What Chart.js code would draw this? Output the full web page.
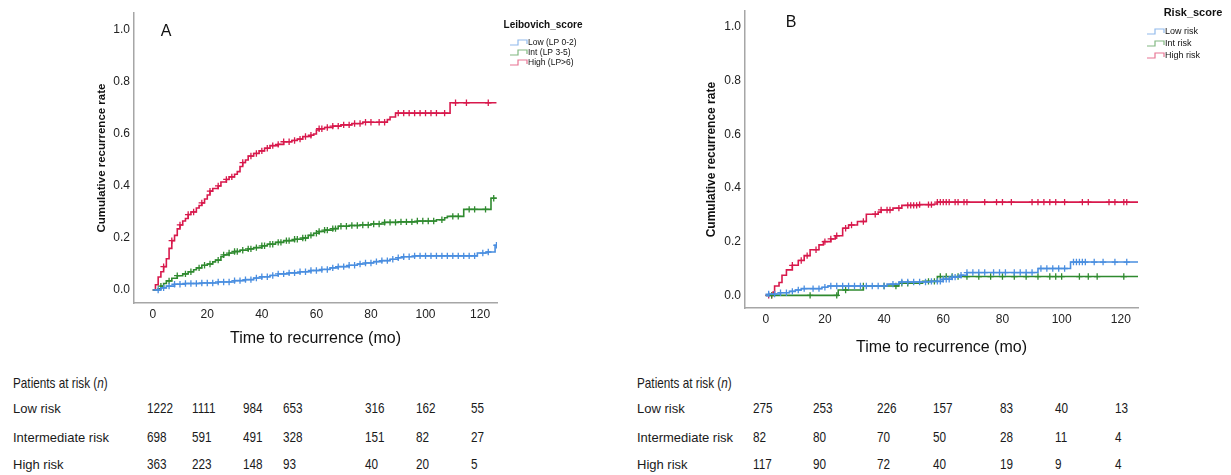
<!DOCTYPE html>
<html>
<head>
<meta charset="utf-8">
<script src="https://cdn.jsdelivr.net/npm/chart.js@4.4.1/dist/chart.umd.min.js"></script>
<style>
  body { margin: 0; background: #fff; width: 1231px; height: 475px; overflow: hidden; position: relative; }
  canvas { position: absolute; top: 0; }
  #chartA { left: 0; }
  #chartB { left: 620px; }
  .t { position: absolute; white-space: nowrap; color: #1a1a1a; line-height: 1; transform-origin: left center; }
  .lab { font: 13px "Liberation Sans", Arial, sans-serif; transform: translateY(-50%); }
  .num, .head { font: 14.5px "Liberation Sans", Arial, sans-serif; transform: translateY(-50%) scaleX(0.81); }
</style>
</head>
<body>
<canvas id="chartA" width="620" height="360"></canvas>
<canvas id="chartB" width="611" height="360"></canvas>
<div id="tables"></div>
<script>
// ---- data ----
const xTicks = [0, 20, 40, 60, 80, 100, 120]
const yTicks = [0, 0.2, 0.4, 0.6, 0.8, 1.0]

// panel A (Leibovich score): step points [month, cumulative rate]
const aLowSteps = [[0,0],[3,0.008],[5,0.015],[8,0.022],[12,0.025],[18,0.027],[24,0.031],[30,0.036],[34,0.04],[37,0.046],[40,0.051],[43,0.056],[46,0.062],[50,0.066],[54,0.07],[58,0.075],[62,0.079],[65,0.085],[68,0.09],[72,0.095],[75,0.1],[78,0.104],[81,0.109],[84,0.113],[87,0.118],[90,0.124],[92,0.128],[96,0.131],[119,0.142],[122.5,0.146],[125.5,0.172],[126,0.172]]
const aIntSteps = [[0,0],[2,0.005],[3,0.015],[4,0.025],[5,0.035],[7,0.045],[9,0.055],[11,0.062],[13,0.07],[15,0.078],[16,0.085],[18,0.095],[20,0.1],[22,0.108],[23,0.115],[25,0.128],[26,0.135],[28,0.142],[30,0.148],[32,0.153],[35,0.158],[37,0.163],[40,0.17],[42,0.176],[45,0.183],[48,0.19],[52,0.195],[55,0.2],[57,0.21],[59,0.218],[61,0.225],[63,0.23],[66,0.236],[68,0.245],[72,0.248],[76,0.25],[80,0.254],[85,0.26],[90,0.262],[97,0.265],[104,0.27],[107,0.278],[108,0.283],[114,0.31],[124,0.353],[126,0.353]]
const aHighSteps = [[0,0],[1,0.02],[2,0.05],[3,0.07],[4,0.09],[5,0.12],[6,0.16],[7,0.19],[8,0.21],[9,0.235],[10,0.25],[11,0.265],[12,0.275],[13,0.29],[14,0.3],[16,0.315],[17,0.325],[18,0.335],[19,0.35],[20,0.365],[21,0.38],[22,0.39],[24,0.4],[25,0.415],[27,0.425],[28,0.435],[30,0.445],[31,0.455],[32,0.475],[33,0.49],[34,0.5],[35,0.515],[37,0.525],[39,0.535],[41,0.545],[43,0.555],[46,0.56],[48,0.57],[51,0.575],[53,0.58],[55,0.59],[58,0.595],[59,0.6],[60,0.615],[61,0.62],[63,0.625],[66,0.63],[69,0.635],[73,0.64],[77,0.645],[86,0.655],[87,0.665],[89,0.68],[109,0.72],[126,0.72]]
// censored times (months)
const aLowCens = [2,4,6,8,10,12,14,16,18,20,22,24,26,28,30,32,34,36,38,40,42,44,46,48,50,52,54,56,58,60,62,64,66,68,70,72,74,76,78,80,82,84,86,88,90,92,94,96,98,100,102,104,106,108,110,112,114,116,118,121,123,126]
const aIntCens = [3,6,9,12,14,17,19,21,24,26,28,30,31,33,35,36,38,40,41,43,44,46,47,49,50,52,53,55,56,58,60,61,63,64,66,67,69,71,73,75,77,79,81,83,85,87,89,91,93,95,97,99,101,103,106,110,112,116,118,122,125]
const aHighCens = [4,7,10,13,15,18,21,24,27,29,33,36,38,40,42,44,46,48,50,52,54,56,58,61,62,64,66,68,70,72,74,76,78,80,83,85,90,92,94,96,98,100,102,104,107,111,115,123]

// panel B (Risk score)
const bLowSteps = [[0,0],[1,0.005],[5,0.01],[8,0.015],[10,0.02],[12,0.025],[19,0.03],[21,0.035],[41,0.042],[45,0.05],[56,0.052],[60,0.06],[63,0.068],[66,0.075],[68,0.085],[92,0.1],[103,0.124],[125.8,0.124]]
const bIntSteps = [[0,0],[24.5,0.02],[33,0.035],[45,0.045],[53,0.052],[58,0.07],[125.8,0.07]]
const bHighSteps = [[0,0],[2.5,0.012],[3,0.035],[4.5,0.048],[5.5,0.075],[7,0.095],[9,0.112],[11,0.13],[13,0.148],[15,0.17],[18,0.188],[19.5,0.2],[22,0.21],[23.5,0.222],[26,0.25],[28,0.262],[31,0.275],[34,0.302],[38,0.31],[39,0.318],[43,0.325],[46,0.335],[52,0.338],[57,0.34],[58,0.347],[125.8,0.347]]
const bLowCens = [1,3,5,7,9,11,13,16,18,20,22,24,26,28,30,32,34,36,38,40,43,46,48,50,52,54,56,58,59,60,61,62,63,64,66,68,70,72,74,77,79,81,84,86,88,90,93,95,97,99,101,104,105,106,107,108,111,114,118,122]
const bIntCens = [2,15,24,27,33,40,44,46,48,55,57,59,61,63,65,68,72,76,80,84,88,92,96,98,100,106,109,112,121]
const bHighCens = [1,2,9,12,14,17,20,22,24,27,29,33,37,39,41,42,45,48,49,50,51,52,55,56,58,59,60,61,62,64,65,67,68,74,78,80,83,90,92,94,96,98,101,107,109,116,118,121,122]

// patients at risk
const groupNames = ['Low risk', 'Intermediate risk', 'High risk']
const riskLowA = [1222, 1111, 984, 653, 316, 162, 55]
const riskIntA = [698, 591, 491, 328, 151, 82, 27]
const riskHighA = [363, 223, 148, 93, 40, 20, 5]
const riskLowB = [275, 253, 226, 157, 83, 40, 13]
const riskIntB = [82, 80, 70, 50, 28, 11, 4]
const riskHighB = [117, 90, 72, 40, 19, 9, 4]

// ---- style ----
const BLUE = '#4a8ee0'
const GREEN = '#2f8a2f'
const RED = '#d8194c'
const tickFont = { family: '"Liberation Sans", Arial, sans-serif', size: 12 }

// step level of a curve at time t (censor marks sit on the curve)
const levelAt = (steps, t) => {
  let v = 0
  steps.forEach(p => { if (p[0] <= t) v = p[1] })
  return v
}

const curve = (steps, color) => ({
  data: steps.map(p => ({ x: p[0], y: p[1] })),
  borderColor: color,
  borderWidth: 1.6,
  stepped: true,
  pointRadius: 0,
  fill: false
})

const marks = (steps, cens, color) => ({
  data: cens.map(t => ({ x: t, y: levelAt(steps, t) })),
  showLine: false,
  pointStyle: 'cross',
  pointRadius: 3.2,
  borderColor: color,
  borderWidth: 1.3,
  backgroundColor: color
})

const stepLegend = {
  id: 'stepLegend',
  afterDraw(chart, args, o) {
    const ctx = chart.ctx
    ctx.save()
    ctx.fillStyle = '#111'
    ctx.textBaseline = 'middle'
    ctx.font = '16px "Liberation Sans", Arial, sans-serif'
    ctx.textAlign = 'center'
    ctx.fillText(o.panel, o.panelX, o.panelY)
    ctx.font = 'bold ' + o.titleSize + 'px "Liberation Sans", Arial, sans-serif'
    ctx.fillText(o.title, o.titleX, o.titleY)
    ctx.textAlign = 'left'
    ctx.font = o.itemSize + 'px "Liberation Sans", Arial, sans-serif'
    o.items.forEach((it, i) => {
      const y = o.itemY + i * o.gap
      ctx.strokeStyle = it.color
      ctx.globalAlpha = 0.6
      ctx.lineWidth = 1.2
      ctx.beginPath()
      ctx.moveTo(o.iconX, y + 2)
      ctx.lineTo(o.iconX + 8, y + 2)
      ctx.lineTo(o.iconX + 8, y - 3)
      ctx.lineTo(o.iconX + 17, y - 3)
      ctx.lineTo(o.iconX + 17, y + 1)
      ctx.stroke()
      ctx.globalAlpha = 1
      ctx.fillText(it.label, o.iconX + 18, y)
    })
    ctx.restore()
  }
}

const makeChart = (id, sets, box, legend) => {
  new Chart(document.getElementById(id), {
    type: 'line',
    data: { datasets: sets },
    plugins: [stepLegend],
    options: {
      responsive: false,
      animation: false,
      layout: { padding: box.pad },
      plugins: { legend: { display: false }, tooltip: { enabled: false }, stepLegend: legend },
      scales: {
        x: {
          type: 'linear',
          min: box.xMin, max: box.xMax,
          afterBuildTicks: s => { s.ticks = xTicks.map(v => ({ value: v })) },
          afterFit: s => { s.height = box.xH },
          grid: { display: false, drawTicks: false },
          border: { display: true, color: '#a6a6a6', width: 1.5 },
          ticks: { font: tickFont, color: '#222', padding: 4, maxRotation: 0 },
          title: { display: true, text: 'Time to recurrence (mo)', padding: 0, color: '#111',
            font: { family: '"Liberation Sans", Arial, sans-serif', size: 16 } }
        },
        y: {
          min: box.yMin, max: box.yMax,
          afterBuildTicks: s => { s.ticks = yTicks.map(v => ({ value: v })) },
          afterFit: s => { s.width = box.yW },
          grid: { display: false, drawTicks: false },
          border: { display: true, color: '#a6a6a6', width: 1.5 },
          ticks: { font: tickFont, color: '#222', padding: 4, callback: v => v.toFixed(1) },
          title: { display: true, text: 'Cumulative recurrence rate', padding: 0, color: '#111',
            font: { family: '"Liberation Sans", Arial, sans-serif', size: box.yTitleSize, weight: 'bold' } }
        }
      }
    }
  })
}

makeChart('chartA', [
  curve(aLowSteps, BLUE), marks(aLowSteps, aLowCens, BLUE),
  curve(aIntSteps, GREEN), marks(aIntSteps, aIntCens, GREEN),
  curve(aHighSteps, RED), marks(aHighSteps, aHighCens, RED)
], {
  pad: { left: 95, right: 123, top: 13, bottom: 12 },
  xMin: -6.86, xMax: 126.2, yMin: -0.05, yMax: 1.065, xH: 45, yW: 39, yTitleSize: 11.5
}, {
  panel: 'A', panelX: 166, panelY: 32,
  title: 'Leibovich_score', titleX: 543, titleY: 25, titleSize: 10,
  iconX: 510, itemY: 43, gap: 10, itemSize: 8.5,
  items: [
    { label: 'Low (LP 0-2)', color: BLUE },
    { label: 'Int (LP 3-5)', color: GREEN },
    { label: 'High (LP>6)', color: RED }
  ]
})

makeChart('chartB', [
  curve(bLowSteps, BLUE), marks(bLowSteps, bLowCens, BLUE),
  curve(bIntSteps, GREEN), marks(bIntSteps, bIntCens, GREEN),
  curve(bHighSteps, RED), marks(bHighSteps, bHighCens, RED)
], {
  pad: { left: 84, right: 93, top: 2, bottom: 3 },
  xMin: -7.0, xMax: 125.8, yMin: -0.047, yMax: 1.058, xH: 49, yW: 41, yTitleSize: 12
}, {
  panel: 'B', panelX: 171, panelY: 23,
  title: 'Risk_score', titleX: 573, titleY: 13, titleSize: 11,
  iconX: 527, itemY: 32, gap: 12, itemSize: 9,
  items: [
    { label: 'Low risk', color: BLUE },
    { label: 'Int risk', color: GREEN },
    { label: 'High risk', color: RED }
  ]
})

// ---- at-risk tables (HTML text) ----
const rowY = [408, 437, 464]
const headY = 383
const tableA = { left: 13, cols: [147, 192, 243, 283, 365, 416, 471], rows: [riskLowA, riskIntA, riskHighA] }
const tableB = { left: 637, cols: [753, 813, 877, 933, 1000, 1055, 1115], rows: [riskLowB, riskIntB, riskHighB] }

const holder = document.getElementById('tables')
const put = (cls, x, y, html) => {
  const d = document.createElement('div')
  d.className = 't ' + cls
  d.style.left = x + 'px'
  d.style.top = y + 'px'
  d.innerHTML = html
  holder.appendChild(d)
}
;[tableA, tableB].forEach(tb => {
  put('head', tb.left, headY, 'Patients at risk (<i>n</i>)')
  tb.rows.forEach((vals, r) => {
    put('lab', tb.left, rowY[r], groupNames[r])
    vals.forEach((v, c) => put('num', tb.cols[c], rowY[r], v))
  })
})
</script>
</body>
</html>
